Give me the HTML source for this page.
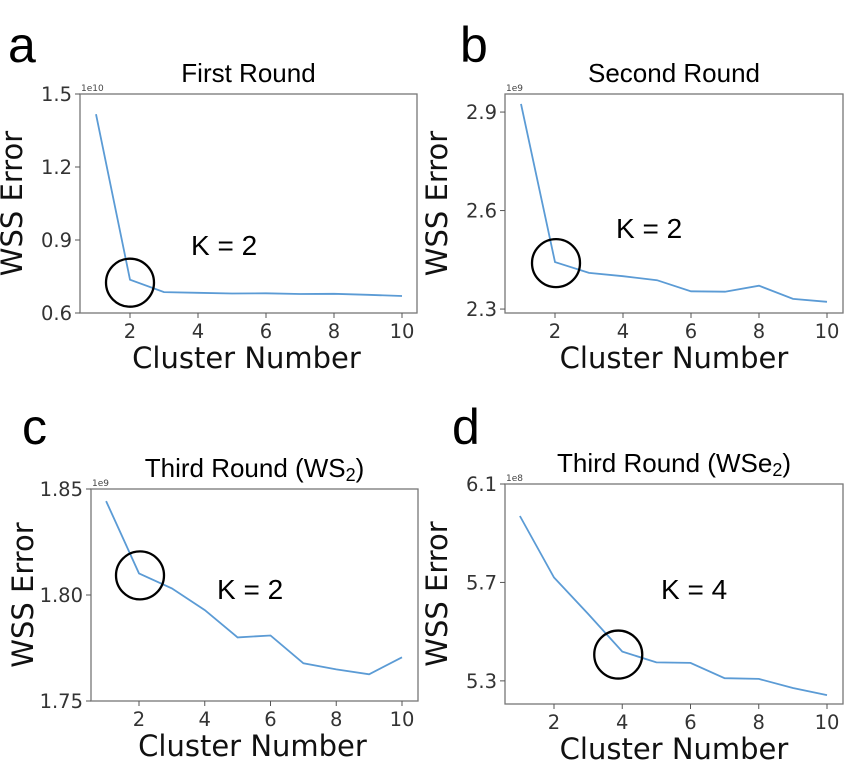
<!DOCTYPE html>
<html><head><meta charset="utf-8"><style>
html,body{margin:0;padding:0;background:#fff;}
svg{display:block;}
.tk{font-family:"DejaVu Sans","Liberation Sans",sans-serif;font-size:19.5px;fill:#333;}
.ax{font-family:"DejaVu Sans","Liberation Sans",sans-serif;font-size:29px;fill:#111;}
.ti{font-family:"Liberation Sans",sans-serif;font-size:26px;fill:#000;}
.kk{font-family:"Liberation Sans",sans-serif;font-size:28px;fill:#000;}
.lt{font-family:"Liberation Sans",sans-serif;font-size:50px;fill:#000;}
.ex{font-family:"DejaVu Sans",sans-serif;font-size:9px;fill:#444;}
</style></head><body>
<svg id="fig" width="850" height="769"></svg>
<script>
const clusters=[1,2,3,4,5,6,7,8,9,10];
const xTicks=[2,4,6,8,10];
const wssA=[1.417,0.737,0.686,0.683,0.680,0.681,0.678,0.679,0.675,0.670];
const wssB=[2.925,2.443,2.410,2.400,2.388,2.354,2.353,2.371,2.331,2.322];
const wssC=[1.8443,1.8102,1.8031,1.7929,1.7800,1.7809,1.7678,1.7649,1.7626,1.7706];
const wssD=[5.970,5.720,5.572,5.419,5.375,5.373,5.311,5.308,5.271,5.242];
const yTicksA=[0.6,0.9,1.2,1.5];
const yTicksB=[2.3,2.6,2.9];
const yTicksC=[1.75,1.80,1.85];
const yTicksD=[5.3,5.7,6.1];
const panels=[
 {id:'a',letter:'a',lx:8,ly:62,title:'First Round',box:[80,94,417,313],ydom:[0.6,1.5],data:wssA,yt:yTicksA,dec:1,exp:'1e10',k:'K = 2',kx:191,ky:255,ck:2,cdx:0,cdy:3},
 {id:'b',letter:'b',lx:460,ly:62,title:'Second Round',box:[505,94,843,313],ydom:[2.288,2.955],data:wssB,yt:yTicksB,dec:1,exp:'1e9',k:'K = 2',kx:616,ky:238,ck:2,cdx:1,cdy:1},
 {id:'c',letter:'c',lx:22,ly:444,title:'Third Round (WS',sub:'2',box:[91,489,418,701],ydom:[1.75,1.85],data:wssC,yt:yTicksC,dec:2,exp:'1e9',k:'K = 2',kx:217,ky:599,ck:2,cdx:1,cdy:2},
 {id:'d',letter:'d',lx:452,ly:444,title:'Third Round (WSe',sub:'2',box:[505,484,843,704],ydom:[5.206,6.1],data:wssD,yt:yTicksD,dec:1,exp:'1e8',k:'K = 4',kx:661,ky:599,ck:4,cdx:-4,cdy:3}
];
const xRef={a:[130,402],b:[555,827],c:[139,402],d:[554,827]};
const NS='http://www.w3.org/2000/svg';
const svg=document.getElementById('fig');
function mk(tag,attrs,parent,text){const e=document.createElementNS(NS,tag);for(const k in attrs)e.setAttribute(k,attrs[k]);if(text!==undefined)e.textContent=text;(parent||svg).appendChild(e);return e;}
panels.forEach(p=>{
 const g=mk('g',{});
 
 
 const [L,T,R,B]=p.box;
 const xr=xRef[p.id];
 const X=v=>xr[0]+(v-2)*(xr[1]-xr[0])/8;
 const Y=v=>B-(v-p.ydom[0])/(p.ydom[1]-p.ydom[0])*(B-T);
 const lt=mk('text',{x:p.lx,y:p.ly,class:'lt'},g,p.letter);
 
 
 const cx=(L+R)/2;
 const ti=mk('text',{x:cx,y:T-12,class:'ti','text-anchor':'middle'},g,p.title);
 if(p.sub){mk('tspan',{'font-size':'18','dy':'4'},ti,p.sub);mk('tspan',{'dy':'-4'},ti,')');}
 
 
 const fr=mk('rect',{x:L,y:T,width:R-L,height:B-T,fill:'none',stroke:'#777','stroke-width':1.3},g);
 
 
 p.yt.forEach(v=>{const y=Y(v);mk('line',{x1:L-5,x2:L,y1:y,y2:y,stroke:'#555'},g);
  const t=mk('text',{x:L-8,y:y+7,class:'tk','text-anchor':'end'},g,v.toFixed(p.dec));
  
  });
 xTicks.forEach(v=>{const x=X(v);mk('line',{x1:x,x2:x,y1:B,y2:B+5,stroke:'#555'},g);
  const t=mk('text',{x:x,y:B+25,class:'tk','text-anchor':'middle'},g,String(v));
  
  });
 const ex=mk('text',{x:L+1,y:T-3,class:'ex'},g,p.exp);
 
 
 const xl=mk('text',{x:cx-(p.id==='a'||p.id==='c'?2:0),y:B+55,class:'ax','text-anchor':'middle'},g,'Cluster Number');
 
 
 const yl=mk('text',{x:0,y:0,class:'ax','text-anchor':'middle',transform:`translate(${L-58},${(T+B)/2}) rotate(-90)`},g,'WSS Error');
 
 
 const pts=clusters.map((c,i)=>X(c).toFixed(1)+','+Y(p.data[i]).toFixed(1)).join(' ');
 const ln=mk('polyline',{points:pts,fill:'none',stroke:'#5b9bd5','stroke-width':1.8},g);
 
 
 const ci=mk('circle',{cx:X(p.ck)+p.cdx,cy:Y(p.data[p.ck-1])+p.cdy,r:24,fill:'none',stroke:'#000','stroke-width':2.3},g);
 
 
 const kt=mk('text',{x:p.kx,y:p.ky,class:'kk'},g,p.k);
 
 
});
</script>
</body></html>
